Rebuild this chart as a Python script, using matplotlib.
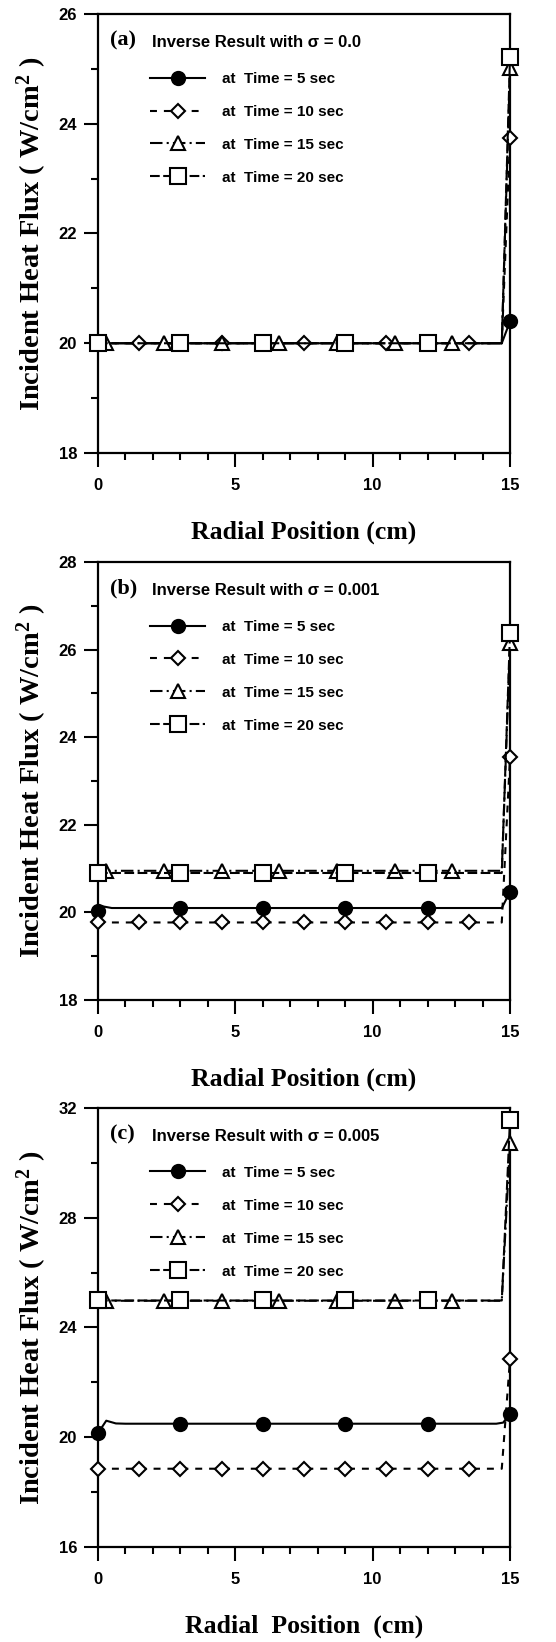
import numpy as np
import matplotlib
matplotlib.use("Agg")
import matplotlib.pyplot as plt
from matplotlib.ticker import MultipleLocator

plt.rcParams["mathtext.fontset"] = "custom"
plt.rcParams["mathtext.rm"] = "Liberation Serif:bold"
plt.rcParams["mathtext.it"] = "Liberation Serif:bold"
plt.rcParams["mathtext.bf"] = "Liberation Serif:bold"
plt.rcParams["lines.scale_dashes"] = False

# Marker positions along the radius (cm)
circle_x = [0, 3, 6, 9, 12, 15]
diamond_x = [0, 1.5, 3, 4.5, 6, 7.5, 9, 10.5, 12, 13.5, 15]
triangle_x = [0.3, 2.4, 4.5, 6.6, 8.7, 10.8, 12.9, 15]
square_x = [0, 3, 6, 9, 12, 15]

# (a) sigma = 0.0
a_t5_x = [0, 3, 6, 9, 12, 14.7, 15]
a_t5_y = [20.0, 20.0, 20.0, 20.0, 20.0, 20.0, 20.4]
a_t10_x = [0, 1.5, 3, 4.5, 6, 7.5, 9, 10.5, 12, 13.5, 14.7, 15]
a_t10_y = [20.0, 20.0, 20.0, 20.0, 20.0, 20.0, 20.0, 20.0, 20.0, 20.0, 20.0, 23.74]
a_t15_x = [0, 0.3, 2.4, 4.5, 6.6, 8.7, 10.8, 12.9, 14.7, 15]
a_t15_y = [20.0, 20.0, 20.0, 20.0, 20.0, 20.0, 20.0, 20.0, 20.0, 25.02]
a_t20_x = [0, 3, 6, 9, 12, 14.7, 15]
a_t20_y = [20.0, 20.0, 20.0, 20.0, 20.0, 20.0, 25.22]

# (b) sigma = 0.001
b_t5_x = [0, 0.15, 0.5, 3, 6, 9, 12, 14.7, 15]
b_t5_y = [20.04, 20.14, 20.1, 20.1, 20.1, 20.1, 20.1, 20.1, 20.47]
b_t10_x = [0, 1.5, 3, 4.5, 6, 7.5, 9, 10.5, 12, 13.5, 14.7, 15]
b_t10_y = [19.77, 19.77, 19.77, 19.77, 19.77, 19.77, 19.77, 19.77, 19.77, 19.77, 19.77, 23.55]
b_t15_x = [0, 0.3, 2.4, 4.5, 6.6, 8.7, 10.8, 12.9, 14.7, 15]
b_t15_y = [20.95, 20.95, 20.95, 20.95, 20.95, 20.95, 20.95, 20.95, 20.95, 26.15]
b_t20_x = [0, 3, 6, 9, 12, 14.7, 15]
b_t20_y = [20.9, 20.9, 20.9, 20.9, 20.9, 20.9, 26.39]

# (c) sigma = 0.005
c_t5_x = [0, 0.3, 0.65, 1.0, 3, 6, 9, 12, 14.5, 14.75, 15]
c_t5_y = [20.15, 20.6, 20.5, 20.49, 20.49, 20.49, 20.49, 20.49, 20.49, 20.53, 20.85]
c_t10_x = [0, 1.5, 3, 4.5, 6, 7.5, 9, 10.5, 12, 13.5, 14.7, 15]
c_t10_y = [18.85, 18.85, 18.85, 18.85, 18.85, 18.85, 18.85, 18.85, 18.85, 18.85, 18.85, 22.85]
c_t15_x = [0, 0.3, 2.4, 4.5, 6.6, 8.7, 10.8, 12.9, 14.7, 15]
c_t15_y = [24.97, 24.97, 24.97, 24.97, 24.97, 24.97, 24.97, 24.97, 24.97, 30.71]
c_t20_x = [0, 3, 6, 9, 12, 14.7, 15]
c_t20_y = [24.98, 24.98, 24.98, 24.98, 24.98, 24.98, 31.54]

labels = ["at  Time = 5 sec", "at  Time = 10 sec", "at  Time = 15 sec", "at  Time = 20 sec"]
panel_tags = ["(a)", "(b)", "(c)"]
sigmas = ["0.0", "0.001", "0.005"]
y_ranges = [(18, 26, 2, 1), (18, 28, 2, 1), (16, 32, 4, 2)]
xlabels = ["Radial Position (cm)", "Radial Position (cm)", "Radial  Position  (cm)"]

panels = [
    [(a_t5_x, a_t5_y), (a_t10_x, a_t10_y), (a_t15_x, a_t15_y), (a_t20_x, a_t20_y)],
    [(b_t5_x, b_t5_y), (b_t10_x, b_t10_y), (b_t15_x, b_t15_y), (b_t20_x, b_t20_y)],
    [(c_t5_x, c_t5_y), (c_t10_x, c_t10_y), (c_t15_x, c_t15_y), (c_t20_x, c_t20_y)],
]

styles = [
    dict(marker="o", ms=9.5, mfc="black", ls="-", marks=circle_x),
    dict(marker="D", ms=7.3, mfc="white", ls=(0, (5, 5)), marks=diamond_x),
    dict(marker="^", ms=10, mfc="white", ls=(0, (9, 3, 1.5, 3)), marks=triangle_x),
    dict(marker="s", ms=11, mfc="white", ls=(0, (7, 2.5)), marks=square_x),
]

sans = "Liberation Sans"
serif = "Liberation Serif"

fig = plt.figure(figsize=(5.56, 16.42), dpi=100)
ax_boxes = [
    [0.1763, 0.7241, 0.741, 0.2674],
    [0.1763, 0.3910, 0.741, 0.2667],
    [0.1763, 0.0579, 0.741, 0.2674],
]

for k in range(3):
    ax = fig.add_axes(ax_boxes[k])
    handles = []
    for (xs, ys), st, lab in zip(panels[k], styles, labels):
        xs = np.array(xs)
        idx = [i for i, v in enumerate(xs) if np.isclose(v, st["marks"]).any()]
        h, = ax.plot(xs, ys, color="black", lw=1.5, ls=st["ls"],
                     marker=st["marker"], ms=st["ms"], mfc=st["mfc"],
                     mec="black", mew=1.5, markevery=idx,
                     label=lab, clip_on=False, zorder=3)
        handles.append(h)

    lo, hi, major, minor = y_ranges[k]
    ax.set_xlim(0, 15)
    ax.set_ylim(lo, hi)
    ax.xaxis.set_major_locator(MultipleLocator(5))
    ax.xaxis.set_minor_locator(MultipleLocator(1))
    ax.yaxis.set_major_locator(MultipleLocator(major))
    ax.yaxis.set_minor_locator(MultipleLocator(minor))
    ax.tick_params(which="both", direction="out", width=1.5, top=False, right=False)
    ax.tick_params(which="major", length=10)
    ax.tick_params(which="minor", length=5)
    ax.tick_params(axis="x", which="major", pad=8)
    ax.tick_params(axis="y", which="major", pad=5)
    for sp in ax.spines.values():
        sp.set_linewidth(1.6)
    for t in ax.get_xticklabels() + ax.get_yticklabels():
        t.set_fontfamily(sans)
        t.set_fontweight("bold")
        t.set_fontsize(12)

    ax.set_xlabel(xlabels[k], fontfamily=serif, fontweight="bold", fontsize=18.5, labelpad=20)
    ax.set_ylabel("Incident Heat Flux ( W/cm$^2$ )", fontfamily=serif,
                  fontweight="bold", fontsize=20.5, labelpad=7)

    ax.text(0.028, 0.94, panel_tags[k], transform=ax.transAxes, fontfamily=serif,
            fontweight="bold", fontsize=16, va="center", ha="left")
    ax.text(0.131, 0.935, "Inverse Result with σ = " + sigmas[k], transform=ax.transAxes,
            fontfamily=sans, fontweight="bold", fontsize=12, va="center", ha="left")

    ax.legend(handles=handles, loc="upper left", bbox_to_anchor=(0.127, 0.868),
              frameon=False, handlelength=3.6, handletextpad=1.1, labelspacing=1.24,
              borderpad=0, borderaxespad=0, numpoints=1,
              prop=dict(family=sans, weight="bold", size=11))

fig.savefig("out.png", dpi=100)
